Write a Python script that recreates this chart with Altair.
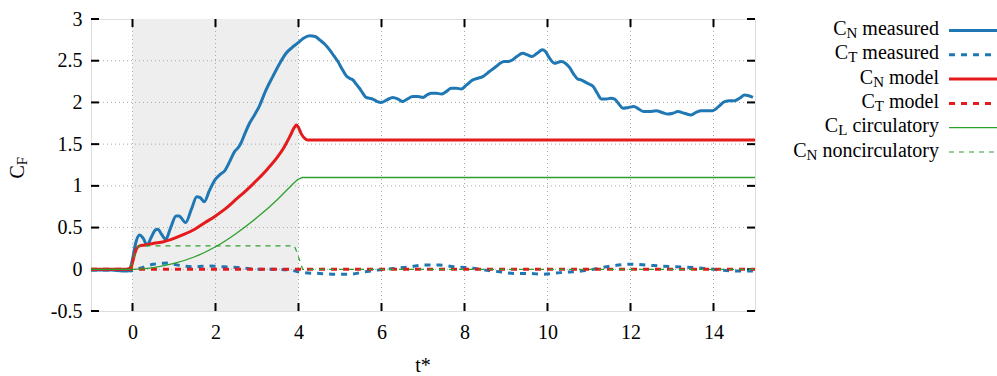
import altair as alt
import pandas as pd

# ---------------- data ----------------
cnm_t = [-1.0, -0.5, -0.25, -0.12, -0.05, 0.0, 0.08, 0.17, 0.26, 0.35, 0.45, 0.55, 0.61, 0.70, 0.80,
         0.92, 1.05, 1.12, 1.28, 1.42, 1.55, 1.63, 1.73, 1.85, 2.0, 2.12, 2.22, 2.35, 2.46, 2.55, 2.62,
         2.72, 2.82, 2.94, 3.06, 3.2, 3.38, 3.55, 3.70, 3.85, 3.98, 4.12, 4.27, 4.4, 4.51, 4.63, 4.75,
         4.85, 4.95, 5.05, 5.15, 5.23, 5.31, 5.39, 5.47, 5.55, 5.63, 5.71, 5.79, 5.9, 5.99, 6.13, 6.27,
         6.4, 6.51, 6.62, 6.75, 6.88, 7.0, 7.1, 7.2, 7.32, 7.44, 7.56, 7.68, 7.8, 7.92, 8.05, 8.2, 8.32,
         8.44, 8.6, 8.76, 8.86, 8.96, 9.04, 9.12, 9.26, 9.4, 9.52, 9.62, 9.75, 9.88, 9.95, 10.05, 10.17,
         10.25, 10.33, 10.43, 10.53, 10.63, 10.73, 10.81, 10.89, 11.0, 11.1, 11.2, 11.3, 11.42, 11.53,
         11.62, 11.72, 11.82, 11.95, 12.08, 12.2, 12.32, 12.45, 12.62, 12.76, 12.9, 13.02, 13.14, 13.3,
         13.46, 13.58, 13.7, 13.84, 13.98, 14.12, 14.27, 14.39, 14.51, 14.63, 14.75, 14.85, 14.95]
cnm_v = [-0.01, -0.01, -0.02, -0.02, 0.02, 0.12, 0.32, 0.41, 0.37, 0.29, 0.38, 0.47, 0.48, 0.42, 0.36,
         0.50, 0.64, 0.64, 0.56, 0.72, 0.87, 0.86, 0.81, 0.94, 1.08, 1.14, 1.18, 1.30, 1.41, 1.46, 1.52,
         1.64, 1.75, 1.85, 1.96, 2.13, 2.31, 2.47, 2.59, 2.66, 2.71, 2.77, 2.80, 2.79, 2.75, 2.70, 2.63,
         2.56, 2.49, 2.40, 2.32, 2.29, 2.27, 2.22, 2.17, 2.11, 2.06, 2.05, 2.04, 2.01, 2.00, 2.03, 2.06,
         2.04, 2.01, 2.04, 2.07, 2.07, 2.06, 2.09, 2.11, 2.11, 2.10, 2.13, 2.17, 2.17, 2.16, 2.21, 2.27,
         2.29, 2.31, 2.37, 2.43, 2.47, 2.49, 2.49, 2.50, 2.55, 2.59, 2.57, 2.55, 2.59, 2.63, 2.61, 2.53,
         2.47, 2.48, 2.49, 2.47, 2.42, 2.34, 2.28, 2.27, 2.25, 2.22, 2.19, 2.11, 2.04, 2.04, 2.05, 2.04,
         1.98, 1.93, 1.94, 1.95, 1.92, 1.89, 1.89, 1.90, 1.88, 1.86, 1.87, 1.89, 1.87, 1.85, 1.88, 1.90,
         1.90, 1.90, 1.95, 2.01, 2.02, 2.02, 2.05, 2.09, 2.08, 2.06]

ctm_t = [-1.0, -0.5, -0.15, -0.05, 0.1, 0.3, 0.5, 0.7, 0.85, 1.0, 1.2, 1.5, 1.85, 2.2, 2.6, 3.0, 3.4,
         3.8, 4.1, 4.5, 4.9, 5.2, 5.6, 5.9, 6.3, 6.7, 7.0, 7.4, 7.75, 8.1, 8.5, 8.85, 9.2, 9.55, 9.9,
         10.3, 10.6, 11.0, 11.3, 11.7, 12.0, 12.4, 12.7, 13.1, 13.5, 13.8, 14.2, 14.6, 14.95]
ctm_v = [-0.01, -0.01, -0.01, -0.02, 0.0, 0.03, 0.06, 0.07, 0.075, 0.06, 0.04, 0.03, 0.04, 0.03, 0.02,
         0.0, 0.0, -0.01, -0.04, -0.05, -0.06, -0.06, -0.03, -0.01, 0.01, 0.03, 0.05, 0.05, 0.03, 0.02,
         -0.01, -0.03, -0.05, -0.05, -0.06, -0.04, -0.03, -0.01, 0.02, 0.05, 0.06, 0.05, 0.04, 0.03,
         0.02, 0.01, -0.01, -0.02, -0.02]

cnmod_t = [-1.0, -0.15, -0.05, 0.0, 0.05, 0.1, 0.17, 0.3, 0.5, 0.75, 1.0, 1.25, 1.5, 1.75, 2.0, 2.25,
           2.5, 2.75, 3.0, 3.25, 3.5, 3.65, 3.8, 3.9, 3.95, 4.0, 4.07, 4.15, 4.22, 15.0]
cnmod_v = [0.0, 0.0, 0.01, 0.08, 0.18, 0.25, 0.28, 0.29, 0.31, 0.33, 0.37, 0.42, 0.48, 0.56, 0.64, 0.73,
           0.84, 0.95, 1.07, 1.20, 1.35, 1.46, 1.60, 1.70, 1.73, 1.70, 1.62, 1.57, 1.55, 1.55]

ctmod_t = [-1.0, 15.0]
ctmod_v = [0.0, 0.0]

clc_t = [-1.0, 0.0, 0.5, 1.0, 1.5, 2.0, 2.5, 3.0, 3.5, 3.8, 4.0, 4.1, 15.0]
clc_v = [0.0, 0.0, 0.02, 0.07, 0.15, 0.27, 0.43, 0.62, 0.84, 0.99, 1.08, 1.10, 1.10]

cnnc_t = [-1.0, -0.1, 0.0, 0.05, 0.1, 0.15, 3.9, 3.95, 4.1, 15.0]
cnnc_v = [0.0, 0.0, 0.08, 0.18, 0.25, 0.28, 0.28, 0.22, 0.0, 0.0]

shade_start = [0]
shade_end = [4]
x_ticks = [0, 2, 4, 6, 8, 10, 12, 14]
y_ticks = [-0.5, 0, 0.5, 1, 1.5, 2, 2.5, 3]
y_grid = [0, 0.5, 1, 1.5, 2, 2.5]

legend_sub = ["N", "T", "N", "T", "L", "N"]
legend_rest = ["measured", "measured", "model", "model", "circulatory", "noncirculatory"]

# ---------------- style ----------------
W, H = 664, 292
PAD_L, PAD_T = 91, 19
FONT = "Liberation Serif"
FS, FS_SUB = 20, 15
BLUE, RED, GREEN = "#1f77b4", "#e41a1c", "#2ca02c"

x_scale = alt.Scale(domain=[-1, 15], nice=False, zero=False)
y_scale = alt.Scale(domain=[-0.5, 3], nice=False, zero=False)
xaxis = alt.Axis(values=x_ticks, grid=False, ticks=False, tickSize=0, domain=False,
                 labelFont=FONT, labelFontSize=FS, labelColor="black", labelPadding=11,
                 labelFlush=False, labelOverlap=False, title=None)
yaxis = alt.Axis(values=y_ticks, grid=False, ticks=False, tickSize=0, domain=False,
                 labelFont=FONT, labelFontSize=FS, labelColor="black", labelPadding=9,
                 labelFlush=False, labelOverlap=False, labelExpr="toString(datum.value)", title=None)

X = lambda f: alt.X(f, scale=x_scale, axis=xaxis)
Y = lambda f: alt.Y(f, scale=y_scale, axis=yaxis)
one = pd.DataFrame({"k": [0]})

layers = []

# shaded interval
layers.append(alt.Chart(pd.DataFrame({"s": shade_start, "e": shade_end}))
              .mark_rect(color="#eeeeee")
              .encode(x=X("s:Q"), x2="e:Q", y=alt.value(0), y2=alt.value(H)))

# dotted grid
gx = pd.DataFrame({"t": x_ticks})
gy = pd.DataFrame({"v": y_grid})
layers.append(alt.Chart(gx).mark_rule(color="#aaaaaa", strokeWidth=1, strokeDash=[1, 3])
              .encode(x=X("t:Q"), y=alt.value(0), y2=alt.value(H)))
layers.append(alt.Chart(gy).mark_rule(color="#aaaaaa", strokeWidth=1, strokeDash=[1, 3])
              .encode(y=Y("v:Q"), x=alt.value(0), x2=alt.value(W)))

# inward ticks on all four sides
TL = 8
gyt = pd.DataFrame({"v": y_ticks})
tick = dict(color="black", strokeWidth=2)
layers.append(alt.Chart(gx).mark_rule(**tick).encode(x=X("t:Q"), y=alt.value(H), y2=alt.value(H - TL)))
layers.append(alt.Chart(gx).mark_rule(**tick).encode(x=X("t:Q"), y=alt.value(0), y2=alt.value(TL)))
layers.append(alt.Chart(gyt).mark_rule(**tick).encode(y=Y("v:Q"), x=alt.value(0), x2=alt.value(TL)))
layers.append(alt.Chart(gyt).mark_rule(**tick).encode(y=Y("v:Q"), x=alt.value(W), x2=alt.value(W - TL)))

# series
series = [
    (cnm_t, cnm_v, BLUE, 3, None, "monotone"),
    (ctm_t, ctm_v, BLUE, 3, [6, 6], "monotone"),
    (cnmod_t, cnmod_v, RED, 3, None, "monotone"),
    (ctmod_t, ctmod_v, RED, 3, [6, 6], "linear"),
    (clc_t, clc_v, GREEN, 1.3, None, "monotone"),
    (cnnc_t, cnnc_v, GREEN, 1.2, [5, 5], "linear"),
]
for t, v, c, w, d, interp in series:
    kw = dict(color=c, strokeWidth=w, interpolate=interp, clip=True)
    if d:
        kw["strokeDash"] = d
    layers.append(alt.Chart(pd.DataFrame({"t": t, "v": v})).mark_line(**kw)
                  .encode(x=X("t:Q"), y=Y("v:Q")))

# ---------------- text helpers (Times metrics) ----------------
TW = {" ": 250, "a": 444, "c": 444, "d": 500, "e": 444, "i": 278, "l": 278, "m": 778, "n": 500,
      "o": 500, "r": 333, "s": 389, "t": 278, "u": 500, "y": 500, "C": 667, "N": 722, "T": 611,
      "L": 611, "F": 556}


def tw(s, size):
    return sum(TW.get(ch, 500) for ch in s) * size / 1000.0


def txt(s, x, y, size, align="left", angle=None):
    kw = dict(font=FONT, fontSize=size, color="black", align=align, baseline="alphabetic")
    if angle is not None:
        kw["angle"] = angle
    return alt.Chart(one).mark_text(**kw).encode(x=alt.value(x), y=alt.value(y), text=alt.value(s))


# axis titles
layers.append(txt("t*", W / 2, 372 - PAD_T, FS, align="center"))
yt_x, yt_y = 24 - PAD_L, 178.5 - PAD_T
layers.append(txt("C", yt_x, yt_y, FS, angle=270))
layers.append(txt("F", yt_x + 3, yt_y - tw("C", FS), FS_SUB, angle=270))

# legend
LR = 939 - PAD_L
for i, (sub, rest) in enumerate(zip(legend_sub, legend_rest)):
    by = 35 - PAD_T + 24.3 * i
    r_sub = LR - tw(rest, FS) - tw(" ", FS)
    layers.append(txt(rest, LR, by, FS, align="right"))
    layers.append(txt(sub, r_sub, by + 3, FS_SUB, align="right"))
    layers.append(txt("C", r_sub - tw(sub, FS_SUB), by, FS, align="right"))
    t, v, c, w, d, interp = series[i]
    kw = dict(color=c, strokeWidth=w)
    if d:
        kw["strokeDash"] = d
    ly = by - 4.5
    layers.append(alt.Chart(one).mark_rule(**kw)
                  .encode(x=alt.value(949 - PAD_L), x2=alt.value(1005 - PAD_L),
                          y=alt.value(ly), y2=alt.value(ly)))

chart = (alt.layer(*layers)
         .properties(width=W, height=H,
                     autosize=alt.AutoSizeParams(type="none"),
                     padding={"left": PAD_L, "top": PAD_T, "right": 997 - PAD_L - W,
                              "bottom": 376 - PAD_T - H})
         .configure_view(stroke="black", strokeWidth=1.5)
         .configure_axis(labelFont=FONT, labelFontSize=FS, labelColor="black")
         .configure_text(font=FONT)
         .configure(background="white", font=FONT))

chart.save("out.html", embed_options={"renderer": "svg", "actions": False})
